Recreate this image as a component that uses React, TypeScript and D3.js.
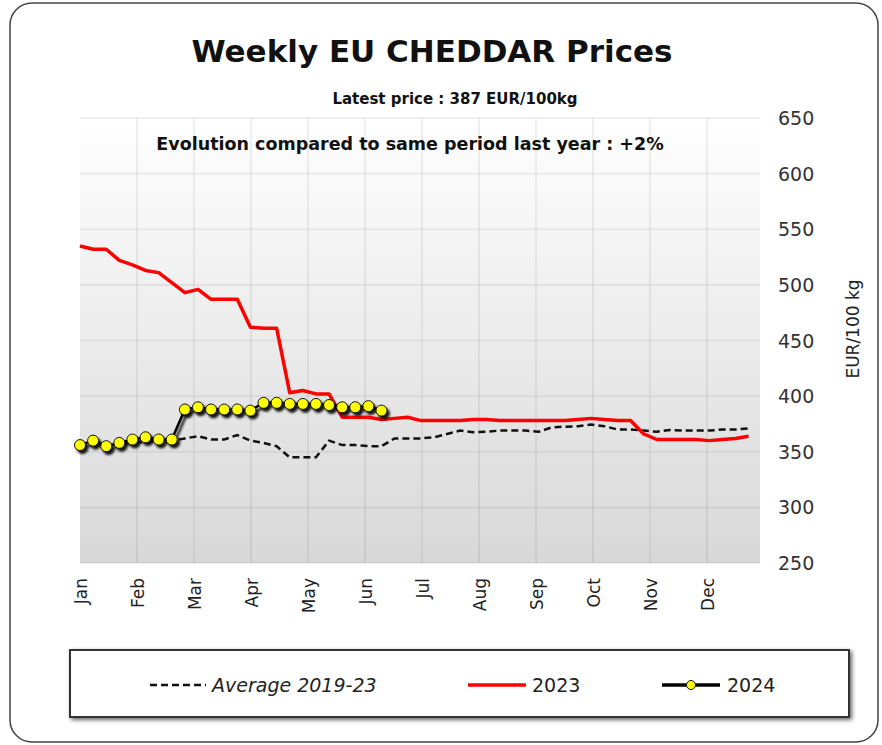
import React, { useEffect, useRef } from 'react'
import * as d3 from 'd3'

const months = ['Jan', 'Feb', 'Mar', 'Apr', 'May', 'Jun', 'Jul', 'Aug', 'Sep', 'Oct', 'Nov', 'Dec']
const yTicks = [250, 300, 350, 400, 450, 500, 550, 600, 650]

// weekly prices, EUR/100 kg
const avg1923 = [355, 356, 356, 357, 358, 359, 359, 360, 362, 364, 361, 361, 365, 360, 358, 355,
  345, 345, 345, 360, 356, 356, 355, 355, 362, 362, 362, 363, 366, 369, 367.5, 368, 369, 369, 369, 368,
  372, 372.5, 373, 374.5, 373, 370, 370, 369, 368, 369.5, 369, 369, 369, 370, 370, 371]
const y2023 = [535, 532, 532, 522, 518, 513, 511, 502, 493, 496, 487, 487, 487, 462, 461, 461,
  403, 405, 402, 402, 381, 381, 381, 379, 380, 381, 378, 378, 378, 378, 379, 379, 378, 378, 378, 378,
  378, 378, 379, 380, 379, 378, 378, 366, 361, 361, 361, 361, 360, 361, 362, 364]
const y2024 = [356, 360, 355, 358, 361, 363, 361, 361, 388, 390, 388, 388, 388, 387, 394, 394,
  393, 393, 393, 392, 390, 390, 391, 387]

const WEEKS_PER_MONTH = 52.18 / 12

export default function App() {
  const ref = useRef<SVGSVGElement>(null)

  useEffect(() => {
    const svg = d3.select(ref.current)
    svg.selectAll('*').remove()

    const width = 882, height = 745
    const left = 80, right = 760, top = 118, bottom = 563
    const font = "'DejaVu Sans', Verdana, sans-serif"

    // x in months from Jan 1
    const x = d3.scaleLinear().domain([0, 12]).range([left, left + 12 * 57])
    const y = d3.scaleLinear().domain([250, 650]).range([bottom, top])
    const wx = (i: number) => x(i / WEEKS_PER_MONTH)

    const defs = svg.append('defs')
    const grad = defs.append('linearGradient').attr('id', 'bg').attr('x1', 0).attr('y1', 0).attr('x2', 0).attr('y2', 1)
    grad.append('stop').attr('offset', '0%').attr('stop-color', '#ffffff')
    grad.append('stop').attr('offset', '100%').attr('stop-color', '#d8d8d8')

    const sh = defs.append('filter').attr('id', 'mshadow').attr('x', '-20%').attr('y', '-20%').attr('width', '140%').attr('height', '140%')
    sh.append('feDropShadow').attr('dx', 2.5).attr('dy', 3).attr('stdDeviation', 1.2)
      .attr('flood-color', '#000').attr('flood-opacity', 0.9)

    const lsh = defs.append('filter').attr('id', 'lshadow').attr('x', '-5%').attr('y', '-20%').attr('width', '110%').attr('height', '140%')
    lsh.append('feDropShadow').attr('dx', 2).attr('dy', 2).attr('stdDeviation', 2)
      .attr('flood-color', '#000').attr('flood-opacity', 0.6)

    // outer frame
    svg.append('rect').attr('x', 10).attr('y', 3).attr('width', 868).attr('height', 739)
      .attr('rx', 22).attr('fill', '#fff').attr('stroke', '#444').attr('stroke-width', 1.5)

    // plot background
    svg.append('rect').attr('x', left).attr('y', top).attr('width', right - left).attr('height', bottom - top)
      .attr('fill', 'url(#bg)')

    // grid
    svg.append('g').selectAll('line').data(yTicks).enter().append('line')
      .attr('x1', left).attr('x2', right)
      .attr('y1', d => y(d)).attr('y2', d => y(d))
      .attr('stroke', 'rgba(0,0,0,0.06)').attr('stroke-width', 2)
    svg.append('g').selectAll('line').data(d3.range(1, 12)).enter().append('line')
      .attr('x1', d => x(d)).attr('x2', d => x(d))
      .attr('y1', top).attr('y2', bottom)
      .attr('stroke', 'rgba(0,0,0,0.06)').attr('stroke-width', 2)

    // titles
    svg.append('text').attr('x', 432).attr('y', 62).attr('text-anchor', 'middle')
      .attr('font-family', font).attr('font-weight', 'bold').attr('font-size', 31).attr('fill', '#111')
      .text('Weekly EU CHEDDAR Prices')
    svg.append('text').attr('x', 455).attr('y', 104).attr('text-anchor', 'middle')
      .attr('font-family', font).attr('font-weight', 'bold').attr('font-size', 15).attr('fill', '#111')
      .text('Latest price : 387 EUR/100kg')
    svg.append('text').attr('x', 410).attr('y', 150).attr('text-anchor', 'middle')
      .attr('font-family', font).attr('font-weight', 'bold').attr('font-size', 17.5).attr('fill', '#111')
      .text('Evolution compared to same period last year : +2%')

    // y axis labels (right)
    svg.append('g').selectAll('text').data(yTicks).enter().append('text')
      .attr('x', 778).attr('y', d => y(d) + 7)
      .attr('font-family', font).attr('font-size', 19).attr('fill', '#333')
      .text(d => d)
    svg.append('text').attr('transform', 'translate(859,329) rotate(-90)').attr('text-anchor', 'middle')
      .attr('font-family', font).attr('font-size', 17).attr('fill', '#222')
      .text('EUR/100 kg')

    // month labels
    svg.append('g').selectAll('text').data(months).enter().append('text')
      .attr('transform', (d, i) => `translate(${x(i) + 7},578) rotate(-90)`)
      .attr('text-anchor', 'end')
      .attr('font-family', font).attr('font-size', 17).attr('fill', '#222')
      .text(d => d)

    const line = d3.line<number>().x((d, i) => wx(i)).y(d => y(d))

    svg.append('path').datum(avg1923).attr('d', line).attr('fill', 'none')
      .attr('stroke', '#111').attr('stroke-width', 2.5).attr('stroke-dasharray', '7,4')
    svg.append('path').datum(y2023).attr('d', line).attr('fill', 'none')
      .attr('stroke', '#ff0000').attr('stroke-width', 3.5).attr('stroke-linejoin', 'round')

    const g24 = svg.append('g').attr('filter', 'url(#mshadow)')
    g24.append('path').datum(y2024).attr('d', line).attr('fill', 'none')
      .attr('stroke', '#000').attr('stroke-width', 2.5)
    g24.selectAll('circle').data(y2024).enter().append('circle')
      .attr('cx', (d, i) => wx(i)).attr('cy', d => y(d)).attr('r', 5.5)
      .attr('fill', '#ffff00').attr('stroke', '#111').attr('stroke-width', 1)

    // legend
    svg.append('rect').attr('x', 70).attr('y', 650).attr('width', 779).attr('height', 67)
      .attr('fill', '#fff').attr('stroke', '#333').attr('stroke-width', 2).attr('filter', 'url(#lshadow)')
    const ly = 685
    svg.append('line').attr('x1', 150).attr('x2', 206).attr('y1', ly).attr('y2', ly)
      .attr('stroke', '#111').attr('stroke-width', 2.5).attr('stroke-dasharray', '7,4')
    svg.append('text').attr('x', 212).attr('y', ly + 7).attr('font-family', font).attr('font-style', 'italic')
      .attr('font-size', 19).attr('fill', '#222').text('Average 2019-23')
    svg.append('line').attr('x1', 468).attr('x2', 526).attr('y1', ly).attr('y2', ly)
      .attr('stroke', '#ff0000').attr('stroke-width', 3.5)
    svg.append('text').attr('x', 532).attr('y', ly + 7).attr('font-family', font)
      .attr('font-size', 19).attr('fill', '#222').text('2023')
    svg.append('line').attr('x1', 662).attr('x2', 720).attr('y1', ly).attr('y2', ly)
      .attr('stroke', '#000').attr('stroke-width', 3.5)
    svg.append('circle').attr('cx', 691).attr('cy', ly).attr('r', 4.5)
      .attr('fill', '#ffff00').attr('stroke', '#111').attr('stroke-width', 1)
    svg.append('text').attr('x', 727).attr('y', ly + 7).attr('font-family', font)
      .attr('font-size', 19).attr('fill', '#222').text('2024')

    svg.attr('width', width).attr('height', height)
  }, [])

  return (
    <div style={{ position: 'absolute', left: 0, top: 0 }}>
      <svg ref={ref} width={882} height={745} style={{ display: 'block' }} />
    </div>
  )
}
